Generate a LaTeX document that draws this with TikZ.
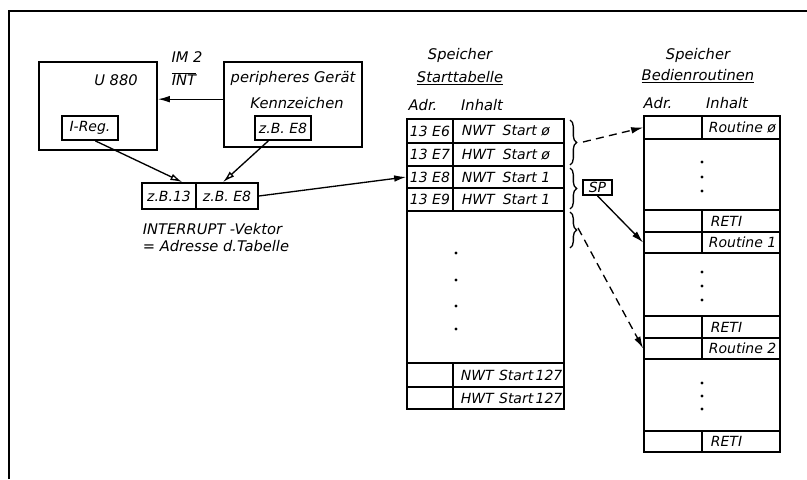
\documentclass[tikz,border=0pt]{standalone}
\usepackage{fontspec}
\setmainfont{DejaVu Sans}
\usetikzlibrary{arrows.meta,fit,decorations.pathreplacing}
\begin{document}
\begin{tikzpicture}[x=0.75pt,y=-0.75pt,
  font=\fontsize{11}{13}\selectfont\itshape,
  line width=1.3pt,
  box/.style={draw, inner sep=0pt, fit={#1}},
  txt/.style={inner sep=0pt},
  lt/.style={inner sep=0pt, anchor=west},
  celltxt/.style={inner sep=0pt, font=\fontsize{10.5}{12}\selectfont\itshape},
  lcell/.style={celltxt, anchor=west},
  thinline/.style={line width=1pt},
  fillarrow/.style={thinline, -{Latex[length=9pt,width=5pt]}},
  openarrow/.style={thinline, -{Latex[open,length=9pt,width=5pt]}},
  dashedarrow/.style={thinline, dash pattern=on 6pt off 4pt, -{Latex[length=9pt,width=5pt]}},
  curly/.style={thinline, decorate, decoration={brace, amplitude=5pt}},
  dot/.style={circle, fill, inner sep=0pt, minimum size=2.4pt}
]
\useasboundingbox (0,0) rectangle (807,479);
% frame
\draw[line width=1.6pt] (9,479) -- (9,11) -- (807,11);

% CPU and peripheral
\node[box={(39,62) (157,150)}] (cpu) {};
\node[txt] (cpuT) at (116,80) {U 880};
\node[box={(62,116) (118,140)}] (ireg) {};
\node[celltxt] (iregT) at (90,128) {I-Reg.};
\node[box={(224,62) (362,147)}] (dev) {};
\node[txt] (devT) at (293,78) {peripheres Gerät};
\node[txt] (kzT) at (297,103) {Kennzeichen};
\node[box={(255,116) (311,140)}] (devk) {};
\node[celltxt] (devkT) at (283,128) {z.B. E8};
\node[txt] (im2) at (187,57) {IM 2};
\node[txt] (int) at (184,79) {$\overline{\mbox{\itshape INT}}$};

% vector
\node[box={(142,183) (196,209)}] (vecA) {};
\node[celltxt] (vecAT) at (169,196) {z.B.13};
\node[box={(196,183) (258,209)}] (vecB) {};
\node[celltxt] (vecBT) at (227,196) {z.B. E8};
\node[lt] (iv1) at (142,229) {INTERRUPT -Vektor};
\node[lt] (iv2) at (142,246) {= Adresse d.Tabelle};

% arrows left
\draw[fillarrow] ([yshift=4pt]dev.west) -- ([yshift=4pt]dev.west -| cpu.east);
\draw[openarrow] ([xshift=4pt]ireg.south) -- ([xshift=10pt]vecA.north);
\draw[openarrow] ([xshift=-11pt]devk.south) -- ([xshift=-3pt]vecB.north);

% start table headings
\node[txt] (sh1) at (460,55) {Speicher};
\node[txt] (sh2) at (460,78) {\underline{Starttabelle}};
\node[txt] (sh3) at (423,105) {Adr.};
\node[txt] (sh4) at (482,105) {Inhalt};

% start table
\node[box={(407,119) (453,143)}] (s1a) {};
\node[box={(453,119) (564,143)}] (s1b) {};
\node[box={(407,143) (453,166)}] (s2a) {};
\node[box={(453,143) (564,166)}] (s2b) {};
\node[box={(407,166) (453,188)}] (s3a) {};
\node[box={(453,166) (564,188)}] (s3b) {};
\node[box={(407,188) (453,211)}] (s4a) {};
\node[box={(453,188) (564,211)}] (s4b) {};
\node[box={(407,211) (564,363)}] (sblk) {};
\node[box={(407,363) (453,387)}] (s5a) {};
\node[box={(453,363) (564,387)}] (s5b) {};
\node[box={(407,387) (453,409)}] (s6a) {};
\node[box={(453,387) (564,409)}] (s6b) {};

\node[celltxt] (s1aT) at (s1a) {13 E6};
\node[celltxt] (s2aT) at (s2a) {13 E7};
\node[celltxt] (s3aT) at (s3a) {13 E8};
\node[celltxt] (s4aT) at (s4a) {13 E9};
\node[lcell] (s1bT) at (461,131) {NWT\hspace{6pt}Start ø};
\node[lcell] (s2bT) at (461,154.5) {HWT\hspace{6pt}Start ø};
\node[lcell] (s3bT) at (461,177) {NWT\hspace{6pt}Start 1};
\node[lcell] (s4bT) at (461,199.5) {HWT\hspace{6pt}Start 1};
\node[lcell] (s5bT) at (460,375) {NWT\hspace{4pt}Start\,127};
\node[lcell] (s6bT) at (460,398) {HWT\hspace{4pt}Start\,127};
\node[dot] (sd1) at (456,253) {};
\node[dot] (sd2) at (456,280) {};
\node[dot] (sd3) at (456,306) {};
\node[dot] (sd4) at (456,329) {};

\draw[fillarrow] (vecB.east) -- (s3a.west);

% braces
\draw[curly] (570,120) -- (570,165);
\draw[curly] (570,168) -- (570,209);
\draw[curly] (570,212) -- (570,248);
\coordinate (b1) at (583,142);
\coordinate (b3) at (578,228);
\node[box={(583,180) (612,195)}] (sp) {};
\node[celltxt] (spT) at (sp) {SP};

% routine table headings
\node[txt] (rh1) at (698,55) {Speicher};
\node[txt] (rh2) at (698,76) {\underline{Bedienroutinen}};
\node[txt] (rh3) at (658,103) {Adr.};
\node[txt] (rh4) at (727,103) {Inhalt};

% routine table
\node[box={(644,116) (702,139)}] (r1a) {};
\node[box={(702,116) (780,139)}] (r1b) {};
\node[box={(644,139) (780,210)}] (rblk1) {};
\node[box={(644,210) (702,232)}] (r2a) {};
\node[box={(702,210) (780,232)}] (r2b) {};
\node[box={(644,232) (702,253)}] (r3a) {};
\node[box={(702,232) (780,253)}] (r3b) {};
\node[box={(644,253) (780,316)}] (rblk2) {};
\node[box={(644,316) (702,338)}] (r4a) {};
\node[box={(702,316) (780,338)}] (r4b) {};
\node[box={(644,338) (702,359)}] (r5a) {};
\node[box={(702,338) (780,359)}] (r5b) {};
\node[box={(644,359) (780,431)}] (rblk3) {};
\node[box={(644,431) (702,452)}] (r6a) {};
\node[box={(702,431) (780,452)}] (r6b) {};

\node[lcell] (r1bT) at (708,127.5) {Routine ø};
\node[lcell] (r2bT) at (710,221) {RETI};
\node[lcell] (r3bT) at (708,242.5) {Routine 1};
\node[lcell] (r4bT) at (710,327) {RETI};
\node[lcell] (r5bT) at (708,348.5) {Routine 2};
\node[lcell] (r6bT) at (710,441.5) {RETI};
\node[dot] (rd1) at (702,162) {};
\node[dot] (rd2) at (702,177) {};
\node[dot] (rd3) at (702,191) {};
\node[dot] (rd4) at (702,272) {};
\node[dot] (rd5) at (702,286) {};
\node[dot] (rd6) at (702,300) {};
\node[dot] (rd7) at (702,383) {};
\node[dot] (rd8) at (702,396) {};
\node[dot] (rd9) at (702,409) {};

% arrows right
\draw[dashedarrow] (b1) -- (r1a.west);
\draw[fillarrow] (sp.south) -- (r3a.west);
\draw[dashedarrow] (b3) -- (r5a.west);
\end{tikzpicture}
\end{document}
